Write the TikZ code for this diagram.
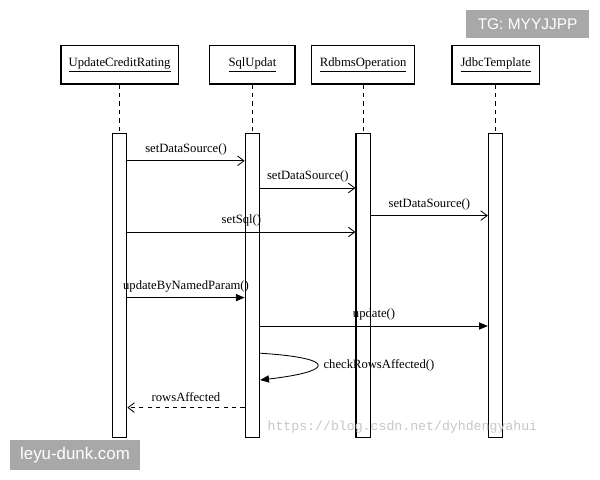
\documentclass[tikz,border=0pt]{standalone}
\usepackage{fontspec}
\setmainfont{Liberation Serif}
\newfontfamily\wmfont{Liberation Sans}
\newfontfamily\urlfont{Liberation Mono}
\usepackage{tikz}
\usetikzlibrary{arrows.meta, positioning}
\definecolor{wmgray}{HTML}{A8A8A8}

\begin{document}
\begin{tikzpicture}[
        obj/.style={draw, rectangle, line width=0.8pt, minimum width=#1, minimum height=0.96cm, inner sep=0pt},
        bar/.style={draw, rectangle, line width=0.8pt, fill=white, minimum width=0.36cm, minimum height=7.6cm, inner sep=0pt},
        life/.style={dashed, line width=0.7pt},
        msg/.style={line width=0.6pt, -{Straight Barb[length=1.6mm, width=2.4mm]}},
        call/.style={line width=0.6pt, -{Triangle[length=2.2mm, width=1.8mm]}},
        ret/.style={line width=0.6pt, dashed, -{Straight Barb[length=1.6mm, width=2.4mm]}},
        lbl/.style={above=0.13cm, inner sep=0pt},
        font=\fontsize{9}{11}\selectfont
    ]
        \path[use as bounding box, fill=white] (0,0) rectangle (15,-12);

        % Objetos
        \node[obj=2.93cm] (ucr) at (2.99,-1.62) {\underline{UpdateCreditRating}};
        \node[obj=2.13cm] (su) at (6.31,-1.62) {\underline{SqlUpdat}};
        \node[obj=2.58cm] (ro) at (9.08,-1.62) {\underline{RdbmsOperation}};
        \node[obj=2.18cm] (jt) at (12.39,-1.62) {\underline{JdbcTemplate}};

        % Linhas de vida
        \node[bar, below=1.2cm of ucr] (ucrbar) {};
        \node[bar, below=1.2cm of su] (subar) {};
        \node[bar, below=1.2cm of ro] (robar) {};
        \node[bar, below=1.2cm of jt] (jtbar) {};
        \draw[life] (ucr) -- (ucrbar);
        \draw[life] (su) -- (subar);
        \draw[life] (ro) -- (robar);
        \draw[life] (jt) -- (jtbar);

        % Mensagens
        \draw[msg] (ucrbar.east |- 0,-4.02) -- node[lbl] (m1) {setDataSource()} (subar.west |- 0,-4.02);
        \draw[msg] (subar.east |- 0,-4.70) -- node[lbl] (m2) {setDataSource()} (robar.west |- 0,-4.70);
        \draw[msg] (robar.east |- 0,-5.39) -- node[lbl] (m3) {setDataSource()} (jtbar.west |- 0,-5.39);
        \draw[msg] (ucrbar.east |- 0,-5.80) -- node[lbl] (m4) {setSql()} (robar.west |- 0,-5.80);
        \draw[call] (ucrbar.east |- 0,-7.44) -- node[lbl] (m5) {updateByNamedParam()} (subar.west |- 0,-7.44);
        \draw[call] (subar.east |- 0,-8.15) -- node[lbl] (m6) {update()} (jtbar.west |- 0,-8.15);
        \draw[call] (subar.east |- 0,-8.83) .. controls +(1.9,-0.12) and +(1.9,0.22) .. node[pos=0.5, right=0.15cm, inner sep=0pt] (m7) {checkRowsAffected()} (subar.east |- 0,-9.50);
        \draw[ret] (subar.west |- 0,-10.19) -- node[lbl] (m8) {rowsAffected} (ucrbar.east |- 0,-10.19);

        % Marcas
        \node[text=black!22, font=\urlfont\fontsize{9.4}{11}\selectfont] (url) at (10.06,-10.68) {https://blog.csdn.net/dyhdengyahui};
        \node[fill=wmgray, text=white, font=\wmfont\fontsize{11}{13}\selectfont, minimum width=3.08cm, minimum height=0.69cm] (tg) at (13.19,-0.6) {TG: MYYJJPP};
        \node[fill=wmgray, text=white, font=\wmfont\fontsize{12}{14}\selectfont, minimum width=3.25cm, minimum height=0.75cm] (leyu) at (1.875,-11.375) {leyu-dunk.com};
    \end{tikzpicture}
\end{document}
